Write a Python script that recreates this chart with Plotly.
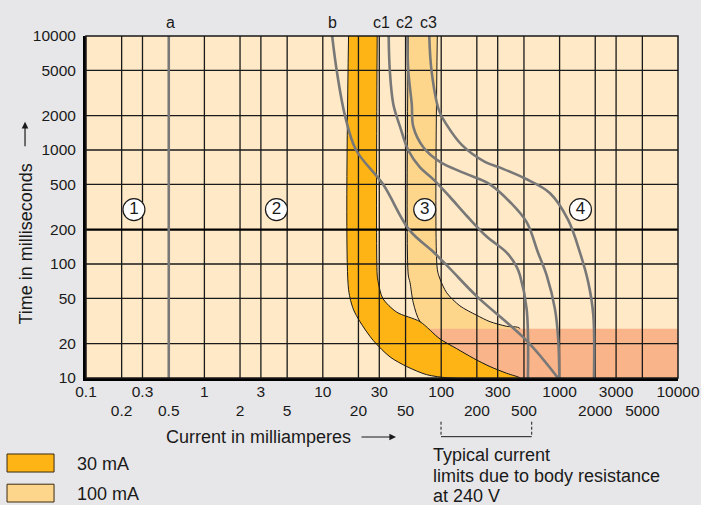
import math
import plotly.graph_objects as go

# ---- axis ticks ----
x_row1 = [0.1, 0.3, 1, 3, 10, 30, 100, 300, 1000, 3000, 10000]
x_row2 = [0.2, 0.5, 2, 5, 20, 50, 200, 500, 2000, 5000]
y_ticks = [10, 20, 50, 100, 200, 500, 1000, 2000, 5000, 10000]
x_grid = [0.2, 0.3, 0.5, 1, 2, 3, 5, 10, 20, 30, 50, 100, 200, 300, 500, 1000, 2000, 3000, 5000]
y_grid = [20, 50, 100, 500, 1000, 2000, 5000]

# ---- curves (current mA, time ms) ----
a_x = [0.5, 0.5]
a_y = [10, 10000]
b_x = [12.0, 13.1, 15.4, 19.1, 32.3, 53.5, 86.9, 118.6, 200, 527, 970]
b_y = [10000, 5000, 2000, 1000, 500, 200, 126, 91, 52, 21.3, 10]
c1_x = [36, 36.8, 39.4, 44.9, 52.7, 66.2, 85.8, 118.6, 164, 242, 357, 434, 463, 527, 540]
c1_y = [10000, 5000, 2523, 1602, 995, 703, 552, 387, 265, 174, 126, 94.5, 79.4, 40.2, 10]
c2_x = [51.7, 52.7, 56.4, 58.1, 70.6, 97.7, 159, 258, 381, 527, 657, 778, 914, 975, 994]
c2_y = [10000, 5000, 2523, 1602, 1058, 787, 623, 500, 350, 233, 126, 79.4, 40.2, 21.3, 10]
c3_x = [79.3, 82.8, 95.8, 111, 150, 234, 314, 510, 830, 1178, 1486, 1746, 1927, 1950]
c3_y = [10000, 5000, 2227, 1670, 1103, 787, 700, 562, 418, 245, 126, 69, 35.5, 10]

# ---- RCD bands ----
band30_x = [16.5, 16.5, 18.1, 20.6, 26.7, 37, 51.2, 75.4, 118.6, 463,
            357, 258, 187, 135, 97.7, 66.2, 42.1, 32.1, 29.4, 28.8, 28.8]
band30_y = [10000, 60, 40.2, 31.2, 21.3, 15.3, 12.6, 10.7, 10, 10,
            11, 12.6, 14.9, 18.1, 22, 31.2, 37.8, 50, 69, 80, 10000]
band100_x = [52.7, 52.7, 54.5, 58.1, 66.2, 97.7, 135, 187, 258, 357, 463,
             463, 357, 258, 199.5, 144, 111.3, 97.7, 92.7, 92.7]
band100_y = [10000, 80, 69, 45.7, 31.2, 22, 18.1, 14.9, 12.6, 11, 10,
             27.1, 28.4, 31.2, 35.5, 42.9, 55.9, 73.9, 90, 10000]
body_x = [77.4, 10000, 10000, 463, 357, 258, 187, 135, 97.7, 77.4]
body_y = [27.1, 27.1, 10, 10, 11, 12.6, 14.9, 18.1, 22, 27.1]

# ---- zone markers and curve labels ----
zone_x = [0.254, 4.06, 72.6, 1500]
zone_y = [300, 300, 300, 300]
zone_text = ["1", "2", "3", "4"]
curve_names = ["a", "b", "c1", "c2", "c3"]
curve_label_x = [0.52, 12.1, 31.6, 49, 77.4]

note_lines = ["Typical current", "limits due to body resistance", "at 240 V"]
legend_names = ["30 mA", "100 mA"]

FONT = "Liberation Sans, Arial, sans-serif"
INK = "#1a1a1a"
GRAY = "#787878"
DARK = "#fdb414"
LIGHT = "#fed68b"
SALMON = "#f9b48a"
BG = "#e7e7e9"

fig = go.Figure()

# bands
fig.add_trace(go.Scatter(x=band100_x, y=band100_y, fill="toself", fillcolor=LIGHT,
                         mode="lines", line=dict(color=INK, width=1, shape="spline", smoothing=0.8),
                         hoverinfo="skip"))
fig.add_trace(go.Scatter(x=body_x, y=body_y, fill="toself", fillcolor=SALMON,
                         mode="lines", line=dict(width=0), hoverinfo="skip"))
fig.add_trace(go.Scatter(x=band30_x, y=band30_y, fill="toself", fillcolor=DARK,
                         mode="lines", line=dict(color=INK, width=1, shape="spline", smoothing=0.8),
                         hoverinfo="skip"))

# grid on top of the coloured areas
gx, gy = [], []
for v in x_grid:
    gx += [v, v, None]
    gy += [10, 10000, None]
for v in y_grid:
    gx += [0.1, 10000, None]
    gy += [v, v, None]
fig.add_trace(go.Scatter(x=gx, y=gy, mode="lines", line=dict(color=INK, width=1.3),
                         hoverinfo="skip"))
fig.add_trace(go.Scatter(x=[0.1, 10000], y=[200, 200], mode="lines",
                         line=dict(color="#000000", width=2.2), hoverinfo="skip"))

# time/current curves
for cx, cy in [(a_x, a_y), (b_x, b_y), (c1_x, c1_y), (c2_x, c2_y), (c3_x, c3_y)]:
    fig.add_trace(go.Scatter(x=cx, y=cy, mode="lines",
                             line=dict(color=GRAY, width=2.6, shape="spline", smoothing=1.0),
                             hoverinfo="skip"))

# zone markers
fig.add_trace(go.Scatter(x=zone_x, y=zone_y, mode="markers+text", text=zone_text,
                         textposition="middle center",
                         textfont=dict(family=FONT, size=17, color=INK),
                         marker=dict(size=22, color="white", line=dict(color=INK, width=1.2)),
                         hoverinfo="skip"))

# second row of x tick labels lives on an overlaid axis
fig.add_trace(go.Scatter(x=[0.1, 10000], y=[10, 10], xaxis="x2", mode="lines",
                         line=dict(width=0), hoverinfo="skip"))

annotations = []
for name, lx in zip(curve_names, curve_label_x):
    annotations.append(dict(x=math.log10(lx), y=1.04, xref="x", yref="paper", text=name,
                            showarrow=False, font=dict(family=FONT, size=16, color=INK),
                            xanchor="center", yanchor="middle"))

# axis titles with arrows
annotations.append(dict(x=-0.1014, y=0.393, xref="paper", yref="paper",
                        text="Time in milliseconds", textangle=-90, showarrow=False,
                        xanchor="center", yanchor="middle",
                        font=dict(family=FONT, size=18, color=INK)))
annotations.append(dict(x=-0.103, y=0.749, xref="paper", yref="paper", text="",
                        showarrow=True, ax=0, ay=26, arrowhead=2, arrowsize=1.1,
                        arrowwidth=1.2, arrowcolor=INK))
annotations.append(dict(x=0.2914, y=-0.1725, xref="paper", yref="paper",
                        text="Current in milliamperes", showarrow=False,
                        xanchor="center", yanchor="middle",
                        font=dict(family=FONT, size=18, color=INK)))
annotations.append(dict(x=0.5236, y=-0.1725, xref="paper", yref="paper", text="",
                        showarrow=True, ax=-36, ay=0, arrowhead=2, arrowsize=1.1,
                        arrowwidth=1.2, arrowcolor=INK))

# body resistance note, one annotation per line
for i, line in enumerate(note_lines):
    annotations.append(dict(x=0.582, y=-0.2251 - i * 0.0605, xref="paper", yref="paper",
                            xanchor="left", yanchor="middle", showarrow=False, text=line,
                            font=dict(family=FONT, size=18, color=INK)))

# legend text
for i, name in enumerate(legend_names):
    annotations.append(dict(x=-0.0186, y=-0.2529 - i * 0.0877, xref="paper", yref="paper",
                            xanchor="left", yanchor="middle", showarrow=False, text=name,
                            font=dict(family=FONT, size=18, color=INK)))

shapes = [
    dict(type="rect", xref="paper", yref="paper", x0=0, x1=1, y0=0, y1=1,
         line=dict(color=INK, width=1.5), layer="above"),
    dict(type="rect", xref="paper", yref="paper", x0=-0.1334, x1=-0.054, y0=-0.2749, y1=-0.2222,
         fillcolor=DARK, line=dict(color="#3a2a10", width=1)),
    dict(type="rect", xref="paper", yref="paper", x0=-0.1334, x1=-0.054, y0=-0.3626, y1=-0.3105,
         fillcolor=LIGHT, line=dict(color="#3a2a10", width=1)),
    dict(type="line", xref="paper", yref="paper", x0=0.5997, x1=0.7529, y0=-0.1716, y1=-0.1716,
         line=dict(color=INK, width=1)),
    dict(type="line", xref="paper", yref="paper", x0=0.5997, x1=0.5997, y0=-0.1278, y1=-0.1716,
         line=dict(color=INK, width=1, dash="3px,2px")),
    dict(type="line", xref="paper", yref="paper", x0=0.7529, x1=0.7529, y0=-0.1278, y1=-0.1716,
         line=dict(color=INK, width=1, dash="3px,2px")),
]

fig.update_layout(
    width=701, height=505, autosize=False,
    margin=dict(l=86, r=23, t=36, b=127, autoexpand=False),
    paper_bgcolor=BG, plot_bgcolor="#ffe9c6",
    showlegend=False,
    font=dict(family=FONT, size=15, color=INK),
    xaxis=dict(type="log", range=[-1, 4], tickvals=x_row1,
               ticktext=[f"{v:g}" for v in x_row1], tickangle=0, automargin=False,
               showgrid=False, zeroline=False, showline=True, linewidth=3, linecolor="#000000",
               ticks="", ticklabelstandoff=-3, tickfont=dict(size=15.5)),
    xaxis2=dict(type="log", range=[-1, 4], overlaying="x", anchor="y", side="bottom",
                tickvals=x_row2, ticktext=[f"{v:g}" for v in x_row2], tickangle=0,
                automargin=False, showgrid=False, zeroline=False, showline=False,
                ticks="", ticklabelstandoff=21, tickfont=dict(size=15.5)),
    yaxis=dict(type="log", range=[1, 4], tickvals=y_ticks,
               ticktext=[f"{v:g}" for v in y_ticks], automargin=False,
               showgrid=False, zeroline=False, showline=True, linewidth=3, linecolor="#000000",
               ticks="", ticklabelstandoff=4, tickfont=dict(size=15.5)),
    annotations=annotations,
    shapes=shapes,
)

fig.write_html("out.html", config={"responsive": False, "displayModeBar": False},
               post_script="document.body.style.margin='0';"
                           "document.body.style.overflow='hidden';"
                           "document.body.style.background='%s';" % BG)
